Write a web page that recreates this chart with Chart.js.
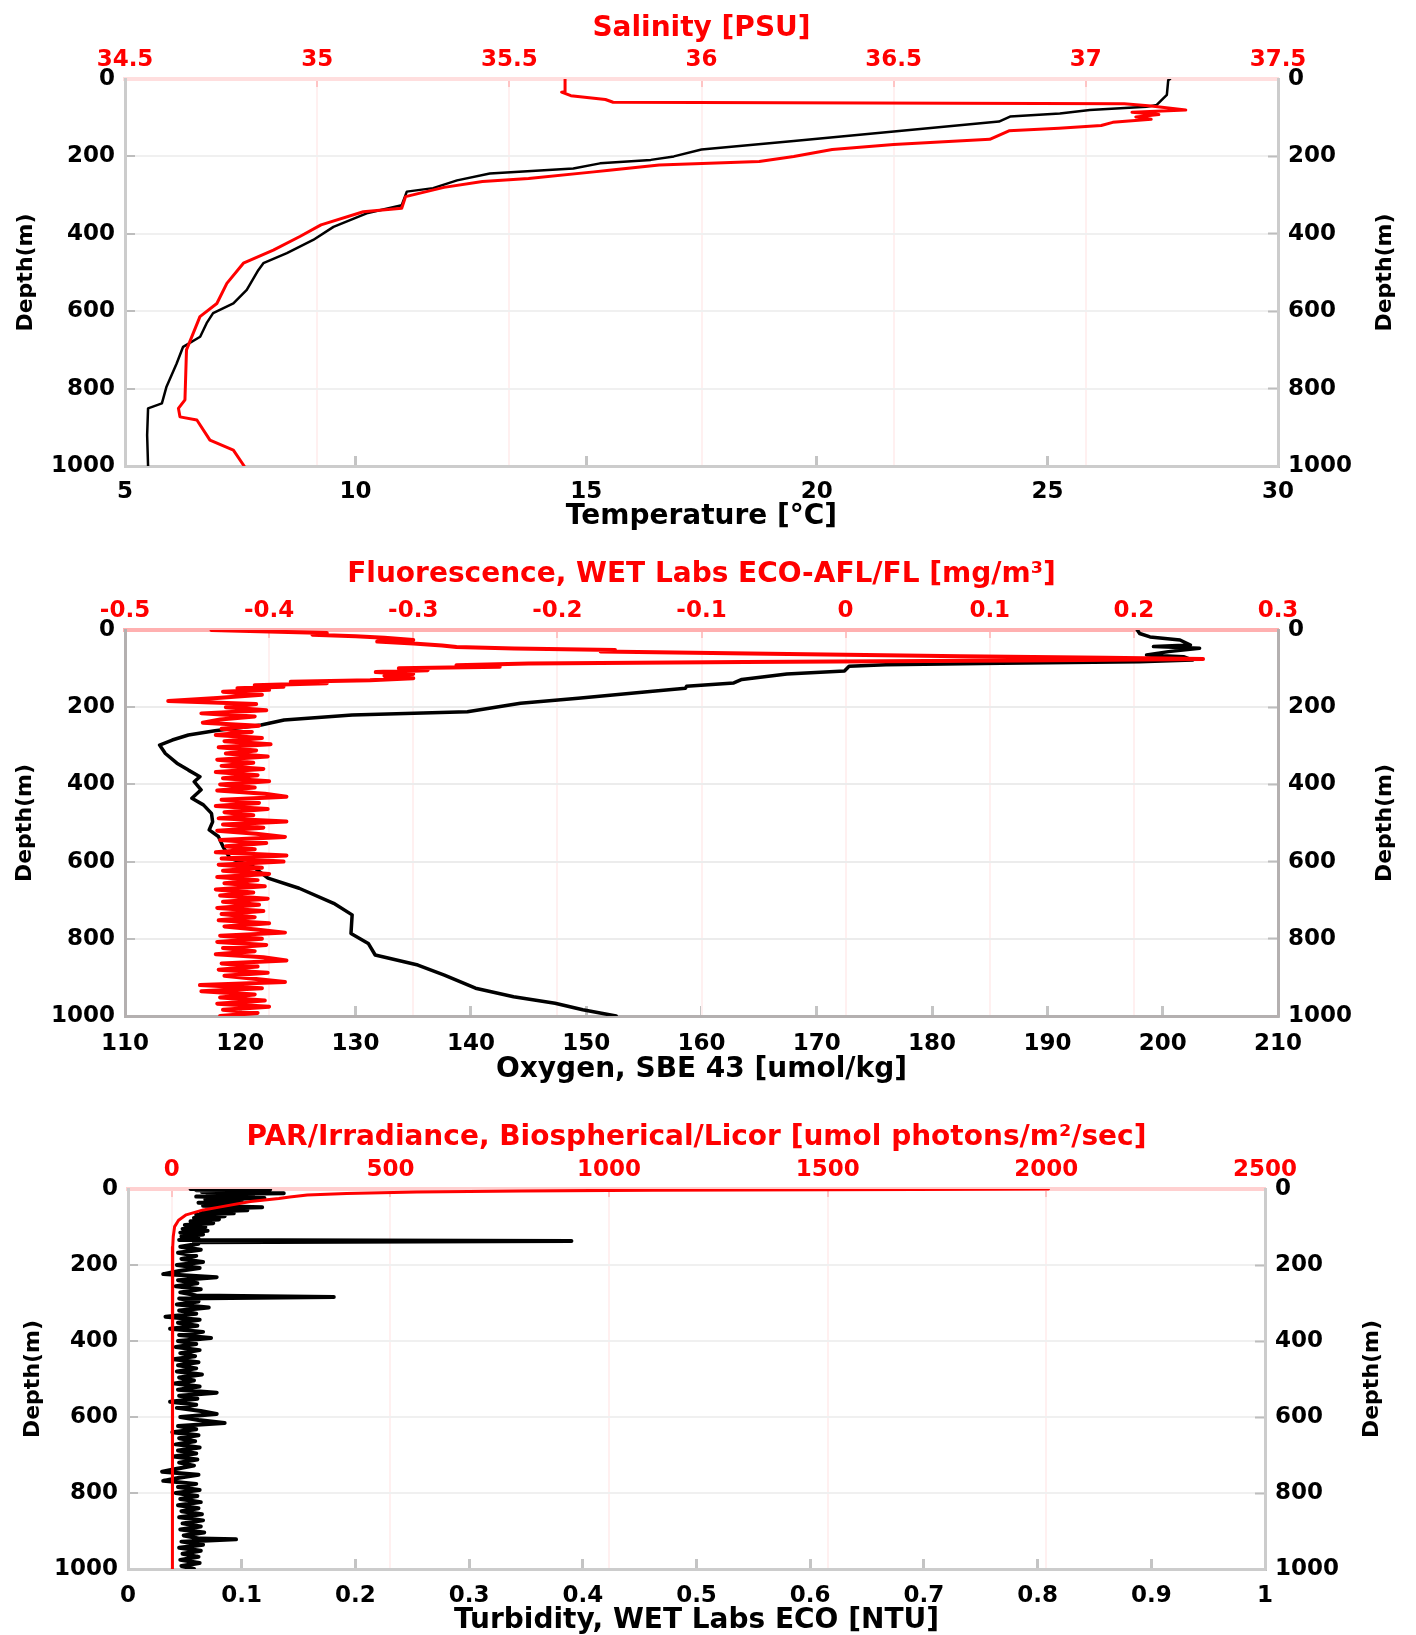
<!DOCTYPE html>
<html>
<head>
<meta charset="utf-8">
<title>Perfis CTD</title>
<script src="https://cdn.jsdelivr.net/npm/chart.js@4.4.1/dist/chart.umd.min.js"></script>
<style>
    html, body { margin: 0; padding: 0; background: #fff; }
    body { width: 1416px; height: 1635px; position: relative; overflow: hidden; }
    canvas { position: absolute; left: 0; }
</style>
</head>
<body>
<canvas id="painelTemperatura" width="1416" height="540" style="top:0px"></canvas>
<canvas id="painelOxigenio" width="1416" height="560" style="top:540px"></canvas>
<canvas id="painelTurbidez" width="1416" height="535" style="top:1100px"></canvas>
<script>
var ticksProfundidade = [0, 200, 400, 600, 800, 1000];

var ticksTemperatura = [5, 10, 15, 20, 25, 30];
var ticksSalinidade = [34.5, 35, 35.5, 36, 36.5, 37, 37.5];
var ticksOxigenio = [110, 120, 130, 140, 150, 160, 170, 180, 190, 200, 210];
var ticksFluorescencia = [-0.5, -0.4, -0.3, -0.2, -0.1, 0, 0.1, 0.2, 0.3];
var ticksTurbidez = [0, 0.1, 0.2, 0.3, 0.4, 0.5, 0.6, 0.7, 0.8, 0.9, 1];
var ticksPar = [0, 500, 1000, 1500, 2000, 2500];

var profTemperatura = [0, 3, 41, 54, 67, 72, 80, 89, 97, 110, 142, 160, 182, 200, 209, 218, 231, 244, 262, 282,
    291, 326, 347, 382, 416, 450, 476, 494, 545, 580, 605, 631, 666, 692, 735, 795, 838, 851, 920, 1000];
var temperatura = [27.66, 27.62, 27.59, 27.48, 27.37, 27.15, 25.92, 25.27, 24.19, 23.95, 21.1, 19.5, 17.5, 16.9, 16.4, 15.3, 14.72, 12.91, 12.2, 11.68,
    11.11, 11.0, 10.24, 9.52, 9.08, 8.51, 8.0, 7.89, 7.64, 7.35, 6.91, 6.77, 6.63, 6.26, 6.12, 5.9, 5.8, 5.5, 5.48, 5.5];

var profSalinidade = [0, 33, 34, 43, 53, 60, 64, 70, 80, 86, 92, 98, 104, 112, 120, 127, 134, 156, 169, 182,
    200, 213, 222, 236, 240, 257, 265, 280, 304, 334, 343, 377, 407, 442, 476, 528, 580, 614, 700, 829,
    851, 873, 881, 933, 959, 1000];
var salinidade = [35.645, 35.645, 35.636, 35.66, 35.75, 35.77, 37.1, 37.17, 37.26, 37.12, 37.19, 37.13, 37.17, 37.07, 37.04, 36.93, 36.8, 36.75, 36.5, 36.34,
    36.24, 36.15, 35.89, 35.76, 35.72, 35.55, 35.43, 35.33, 35.23, 35.22, 35.12, 35.01, 34.955, 34.886, 34.808, 34.765, 34.739, 34.695, 34.66, 34.656,
    34.639, 34.643, 34.687, 34.721, 34.782, 34.81];

var profOxigenio = [0, 9, 18, 26, 39, 43, 47, 56, 65, 69, 78, 82, 86, 90, 94, 106, 114, 128, 137, 146,
    151, 160, 177, 190, 212, 220, 233, 246, 261, 272, 285, 298, 320, 345, 363, 380, 393, 414, 436, 453,
    475, 497, 518, 535, 561, 591, 613, 643, 669, 708, 738, 786, 812, 842, 868, 894, 928, 950, 967, 984, 1000];
var oxigenio = [197.8, 198.0, 198.9, 201.5, 202.4, 199.2, 203.2, 200.5, 198.6, 201.8, 202.6, 198, 186, 176, 172.8, 172.4, 167.4, 163.5, 162.8, 158.7,
    158.6, 155.3, 149.3, 144.3, 139.7, 129.7, 123.8, 121.8, 117.8, 115.5, 114.1, 113.0, 113.5, 114.5, 115.5, 116.5, 116.0, 116.6, 115.8, 116.8,
    117.5, 117.6, 117.3, 118.1, 118.5, 119.1, 121.1, 122.4, 125.1, 128.1, 129.7, 129.6, 131.1, 131.7, 135.4, 137.7, 140.4, 143.7, 147.3, 149.7, 152.6];

var profFluorSuperficie = [0, 4, 8, 12, 16, 20, 26, 30, 35, 40, 44, 48, 52, 56, 60, 64, 68, 72, 75, 79,
    83, 87, 91, 95, 99, 104, 109, 114, 119, 125, 130, 134, 138, 143, 147, 151, 155];
var fluorSuperficie = [-0.44, -0.40, -0.36, -0.37, -0.34, -0.32, -0.30, -0.325, -0.30, -0.28, -0.27, -0.23, -0.16, -0.17, -0.08, 0.0, 0.08, 0.18, 0.248, 0.12,
    -0.07, -0.22, -0.27, -0.24, -0.31, -0.29, -0.326, -0.30, -0.32, -0.30, -0.33, -0.385, -0.36, -0.41, -0.39, -0.422, -0.40];

var profFluorFundo = [160, 168, 176, 184, 192, 200, 208, 216, 224, 232, 240, 248, 256, 264, 272, 280, 288, 296, 304, 312,
    320, 328, 336, 344, 352, 360, 368, 376, 384, 392, 400, 408, 416, 424, 432, 440, 448, 456, 464, 472,
    480, 488, 496, 504, 512, 520, 528, 536, 544, 552, 560, 568, 576, 584, 592, 600, 608, 616, 624, 632,
    640, 648, 656, 664, 672, 680, 688, 696, 704, 712, 720, 728, 736, 744, 752, 760, 768, 776, 784, 792,
    800, 808, 816, 824, 832, 840, 848, 856, 864, 872, 880, 888, 896, 904, 912, 920, 928, 936, 944, 952,
    960, 968, 976, 984, 992, 1000];
var fluorFundo = [-0.432, -0.405, -0.436, -0.470, -0.409, -0.430, -0.402, -0.447, -0.410, -0.434, -0.446, -0.407, -0.433, -0.412, -0.437, -0.405, -0.431, -0.399, -0.435, -0.409,
    -0.430, -0.401, -0.436, -0.411, -0.433, -0.404, -0.437, -0.408, -0.432, -0.400, -0.434, -0.410, -0.436, -0.403, -0.388, -0.433, -0.407, -0.437, -0.401, -0.431,
    -0.411, -0.435, -0.388, -0.432, -0.404, -0.436, -0.409, -0.389, -0.434, -0.402, -0.430, -0.410, -0.437, -0.388, -0.433, -0.390, -0.435, -0.405, -0.432, -0.400,
    -0.436, -0.408, -0.431, -0.403, -0.437, -0.411, -0.434, -0.401, -0.432, -0.407, -0.436, -0.404, -0.433, -0.410, -0.435, -0.400, -0.431, -0.409, -0.389, -0.434,
    -0.405, -0.436, -0.402, -0.432, -0.410, -0.437, -0.404, -0.388, -0.433, -0.408, -0.435, -0.401, -0.431, -0.409, -0.389, -0.448, -0.405, -0.447, -0.410, -0.434,
    -0.403, -0.436, -0.400, -0.432, -0.408, -0.434];

var profTurbSuperficie = [0, 1, 3, 5, 8, 11, 14, 17, 20, 24, 28, 32, 36, 40, 44, 48, 52, 56, 60, 64,
    68, 72, 76, 80, 85, 90, 95, 100, 105, 110, 115, 120, 125, 130, 134, 137, 140];
var turbSuperficie = [0.055, 0.125, 0.06, 0.118, 0.065, 0.137, 0.07, 0.11, 0.06, 0.12, 0.068, 0.10, 0.062, 0.095, 0.066, 0.118, 0.07, 0.105, 0.064, 0.093,
    0.06, 0.085, 0.058, 0.08, 0.055, 0.075, 0.05, 0.068, 0.048, 0.07, 0.046, 0.066, 0.047, 0.062, 0.045, 0.39, 0.058];

var profTurbFundo = [144, 152, 160, 168, 176, 184, 192, 200, 208, 216, 224, 232, 240, 248, 256, 264, 272, 280, 284, 288,
    296, 304, 312, 320, 328, 336, 344, 352, 360, 368, 376, 384, 392, 400, 408, 416, 424, 432, 440, 448,
    456, 464, 472, 480, 488, 496, 504, 512, 520, 528, 536, 544, 552, 560, 568, 576, 584, 592, 600, 608,
    616, 624, 632, 640, 648, 656, 664, 672, 680, 688, 696, 704, 712, 720, 728, 736, 744, 752, 760, 768,
    776, 784, 792, 800, 808, 816, 824, 832, 840, 848, 856, 864, 872, 880, 888, 896, 904, 912, 920, 922,
    928, 936, 944, 952, 960, 968, 976, 984, 992, 1000];
var turbFundo = [0.062, 0.046, 0.064, 0.044, 0.060, 0.047, 0.066, 0.043, 0.063, 0.045, 0.031, 0.078, 0.044, 0.061, 0.042, 0.064, 0.046, 0.060, 0.181, 0.045,
    0.062, 0.043, 0.071, 0.045, 0.060, 0.033, 0.063, 0.044, 0.061, 0.037, 0.066, 0.045, 0.073, 0.044, 0.060, 0.042, 0.063, 0.046, 0.059, 0.040,
    0.062, 0.044, 0.060, 0.043, 0.065, 0.045, 0.058, 0.041, 0.063, 0.044, 0.078, 0.045, 0.061, 0.037, 0.060, 0.043, 0.064, 0.078, 0.046, 0.062,
    0.085, 0.044, 0.060, 0.039, 0.062, 0.045, 0.059, 0.042, 0.063, 0.044, 0.060, 0.040, 0.061, 0.045, 0.058, 0.043, 0.030, 0.062, 0.045, 0.031,
    0.060, 0.044, 0.063, 0.042, 0.061, 0.046, 0.064, 0.044, 0.062, 0.047, 0.065, 0.045, 0.066, 0.048, 0.064, 0.046, 0.067, 0.049, 0.063, 0.095,
    0.047, 0.066, 0.045, 0.064, 0.048, 0.062, 0.046, 0.063, 0.047, 0.058];

var profPar = [0, 1, 3, 5, 8, 12, 16, 21, 25, 33, 47, 55, 68, 82, 99, 125, 152, 250, 400, 600, 800, 1000];
var par = [2005, 1700, 1100, 800, 560, 400, 310, 270, 245, 180, 112, 72, 33, 15.6, 6.6, 3.5, 2.3, 2.1, 2.0, 1.6, 1.2, 1.0];

// ---- estilo geral ----
Chart.defaults.font.family = '"DejaVu Sans", sans-serif';
Chart.defaults.font.weight = 'bold';
Chart.defaults.color = '#000';

var rotuloDireita = {
    id: 'rotuloDireita',
    afterDraw: function (chart, args, opcoes) {
        var ctx = chart.ctx;
        var area = chart.chartArea;
        ctx.save();
        ctx.translate(chart.scales.y2.left + 107, (area.top + area.bottom) / 2);
        ctx.rotate(-Math.PI / 2);
        ctx.font = 'bold 22px "DejaVu Sans"';
        ctx.fillStyle = '#000';
        ctx.textAlign = 'center';
        ctx.textBaseline = 'middle';
        ctx.fillText(opcoes.texto, 0, 0);
        ctx.restore();
    }
};

function pontos(valores, profundidades) {
    var lista = [];
    for (var i = 0; i < valores.length; i++) {
        lista.push({ x: valores[i], y: profundidades[i] });
    }
    return lista;
}

function fixarTicks(valores) {
    return function (eixo) {
        eixo.ticks = valores.map(function (v) { return { value: v }; });
    };
}

function textoTick(valor) {
    return String(valor);
}

function montarPainel(idCanvas, p) {
    var config = {
        type: 'line',
        data: { datasets: p.conjuntos },
        options: {
            responsive: false,
            animation: false,
            devicePixelRatio: 1,
            events: [],
            layout: { padding: 0 },
            plugins: {
                legend: { display: false },
                tooltip: { enabled: false },
                rotuloDireita: { texto: 'Depth(m)' }
            },
            elements: {
                point: { radius: 0 },
                line: { tension: 0, fill: false, borderJoinStyle: 'round', borderCapStyle: 'round' }
            },
            scales: {
                x: {
                    type: 'linear',
                    position: 'bottom',
                    min: p.baixo.min,
                    max: p.baixo.max,
                    afterBuildTicks: fixarTicks(p.baixo.ticks),
                    afterFit: function (eixo) { eixo.height = p.caixa.base; },
                    ticks: { color: '#000', padding: p.padTickBase, autoSkip: false, maxRotation: 0, font: { size: 23 }, callback: textoTick },
                    grid: { drawOnChartArea: false, tickLength: -10, tickWidth: 3, tickColor: '#c4c4c4' },
                    border: { color: p.corBorda, width: 3 },
                    title: { display: true, text: p.baixo.titulo, color: '#000', font: { size: 28, lineHeight: 1 }, padding: { top: 0, bottom: p.padTituloBase } }
                },
                x2: {
                    type: 'linear',
                    position: 'top',
                    min: p.cima.min,
                    max: p.cima.max,
                    afterBuildTicks: fixarTicks(p.cima.ticks),
                    afterFit: function (eixo) { eixo.height = p.caixa.topo; },
                    ticks: { color: '#ff0000', padding: 13, autoSkip: false, maxRotation: 0, font: { size: 23 }, callback: textoTick },
                    grid: { color: '#fff0f0', lineWidth: 2, tickLength: -8, tickWidth: 2, tickColor: '#ffc4c4' },
                    border: { color: p.corBordaTopo, width: 4 },
                    title: { display: true, text: p.cima.titulo, color: '#ff0000', font: { size: 28, lineHeight: 1 }, padding: { top: p.padTituloTopo, bottom: 0 } }
                },
                y: {
                    type: 'linear',
                    position: 'left',
                    reverse: true,
                    min: 0,
                    max: 1000,
                    afterBuildTicks: fixarTicks(ticksProfundidade),
                    afterFit: function (eixo) { eixo.width = p.caixa.esq; },
                    ticks: { color: '#000', padding: 20, font: { size: 23 }, callback: textoTick },
                    grid: { color: p.corGrade, lineWidth: 2, tickLength: -10, tickWidth: 2, tickColor: '#bdbdbd' },
                    border: { color: p.corBorda, width: 3 },
                    title: { display: true, text: 'Depth(m)', color: '#000', font: { size: 22, lineHeight: 1 }, padding: { top: p.padTituloEsq, bottom: 0 } }
                },
                y2: {
                    type: 'linear',
                    position: 'right',
                    reverse: true,
                    min: 0,
                    max: 1000,
                    afterBuildTicks: fixarTicks(ticksProfundidade),
                    afterFit: function (eixo) { eixo.width = p.caixa.dir; },
                    ticks: { color: '#000', padding: 20, font: { size: 23 }, callback: textoTick },
                    grid: { drawOnChartArea: false, tickLength: -10, tickWidth: 2, tickColor: '#bdbdbd' },
                    border: { color: p.corBorda, width: 3 }
                }
            }
        },
        plugins: [rotuloDireita]
    };

    return new Chart(document.getElementById(idCanvas), config);
}

// ---- painel 1: temperatura / salinidade ----
montarPainel('painelTemperatura', {
    caixa: { esq: 125, dir: 138, topo: 79, base: 74 },
    baixo: { min: 5, max: 30, ticks: ticksTemperatura, titulo: 'Temperature [°C]' },
    cima: { min: 34.5, max: 37.5, ticks: ticksSalinidade, titulo: 'Salinity [PSU]' },
    padTickBase: 22,
    padTituloBase: 9,
    padTituloTopo: 14.5,
    padTituloEsq: 15,
    corBorda: '#cccccc',
    corBordaTopo: '#ffdede',
    corGrade: '#f0f0f0',
    conjuntos: [
        { label: 'Salinity', data: pontos(salinidade, profSalinidade), xAxisID: 'x2', yAxisID: 'y', borderColor: '#ff0000', borderWidth: 3, order: 0 },
        { label: 'Temperature', data: pontos(temperatura, profTemperatura), xAxisID: 'x', yAxisID: 'y', borderColor: '#000000', borderWidth: 2.5, order: 1 }
    ]
});

// ---- painel 2: oxigenio / fluorescencia ----
montarPainel('painelOxigenio', {
    caixa: { esq: 125, dir: 138, topo: 90, base: 84 },
    baixo: { min: 110, max: 210, ticks: ticksOxigenio, titulo: 'Oxygen, SBE 43 [umol/kg]' },
    cima: { min: -0.5, max: 0.3, ticks: ticksFluorescencia, titulo: 'Fluorescence, WET Labs ECO-AFL/FL [mg/m³]' },
    padTickBase: 24,
    padTituloBase: 16.5,
    padTituloTopo: 21,
    padTituloEsq: 14,
    corBorda: '#b4b0b0',
    corBordaTopo: '#ffb0b0',
    corGrade: '#ececec',
    conjuntos: [
        { label: 'Fluorescence', data: pontos(fluorSuperficie.concat(fluorFundo), profFluorSuperficie.concat(profFluorFundo)), xAxisID: 'x2', yAxisID: 'y', borderColor: '#ff0000', borderWidth: 4, order: 0 },
        { label: 'Oxygen', data: pontos(oxigenio, profOxigenio), xAxisID: 'x', yAxisID: 'y', borderColor: '#000000', borderWidth: 3.5, order: 1 }
    ]
});

// ---- painel 3: turbidez / PAR ----
montarPainel('painelTurbidez', {
    caixa: { esq: 128, dir: 151, topo: 89, base: 66 },
    baixo: { min: 0, max: 1, ticks: ticksTurbidez, titulo: 'Turbidity, WET Labs ECO [NTU]' },
    cima: { min: -100, max: 2500, ticks: ticksPar, titulo: 'PAR/Irradiance, Biospherical/Licor [umol photons/m²/sec]' },
    padTickBase: 23,
    padTituloBase: 0,
    padTituloTopo: 23.5,
    padTituloEsq: 22,
    corBorda: '#cccccc',
    corBordaTopo: '#ffd0d0',
    corGrade: '#f0f0f0',
    conjuntos: [
        { label: 'PAR', data: pontos(par, profPar), xAxisID: 'x2', yAxisID: 'y', borderColor: '#ff0000', borderWidth: 3, order: 0 },
        { label: 'Turbidity', data: pontos(turbSuperficie.concat(turbFundo), profTurbSuperficie.concat(profTurbFundo)), xAxisID: 'x', yAxisID: 'y', borderColor: '#000000', borderWidth: 4, order: 1 }
    ]
});
</script>
</body>
</html>
